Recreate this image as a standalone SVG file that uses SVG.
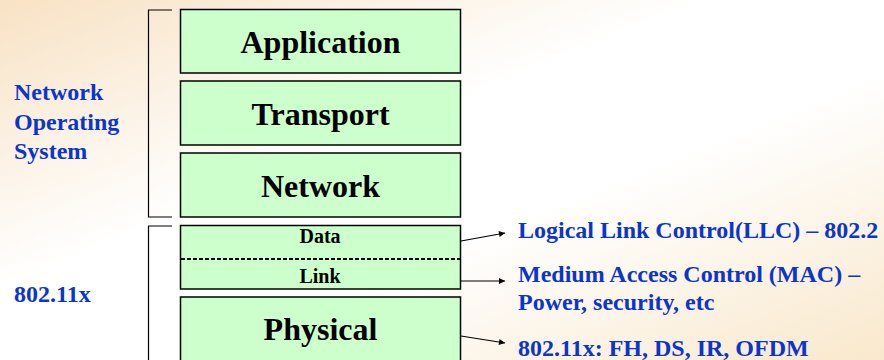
<svg xmlns="http://www.w3.org/2000/svg" width="884" height="360" viewBox="0 0 884 360">
  <defs>
    <!-- diagonal wash: peach in the top-left and bottom-right corners, white across the middle -->
    <linearGradient id="bg" gradientUnits="userSpaceOnUse" x1="0" y1="0" x2="251.5" y2="617.6">
      <stop offset="0" stop-color="#F8E2C4"/>
      <stop offset="0.4" stop-color="#FFFFFF"/>
      <stop offset="0.6" stop-color="#FFFFFF"/>
      <stop offset="1" stop-color="#F9E8CC"/>
    </linearGradient>
    <marker id="arrow" viewBox="0 0 10 10" refX="10" refY="5" markerWidth="8" markerHeight="6" markerUnits="userSpaceOnUse" orient="auto">
      <path d="M0,0 L10,5 L0,10 Z" fill="#000"/>
    </marker>
    <style>
      .layer { fill: #CCFFCC; stroke: #000; stroke-width: 1.5; }
      .big { font-family: "Liberation Serif", "Times New Roman", serif; font-weight: bold; font-size: 32px; fill: #000; text-anchor: middle; }
      .small { font-family: "Liberation Serif", "Times New Roman", serif; font-weight: bold; font-size: 20px; fill: #000; text-anchor: middle; }
      .note { font-family: "Liberation Serif", "Times New Roman", serif; font-weight: bold; font-size: 24px; fill: #0B35CC; }
      .bracket { fill: none; stroke: #000; stroke-width: 1.2; }
      .conn { fill: none; stroke: #000; stroke-width: 1.2; marker-end: url(#arrow); }
    </style>
  </defs>

  <rect x="0" y="0" width="884" height="360" fill="url(#bg)"/>

  <!-- side labels and brackets -->
  <g id="nos-label">
    <text class="note" x="14" y="100">Network</text>
    <text class="note" x="14" y="130">Operating</text>
    <text class="note" x="14" y="159">System</text>
    <path class="bracket" d="M172,10 H148.5 V217 H172"/>
  </g>
  <g id="wlan-label">
    <text class="note" x="14" y="302">802.11x</text>
    <path class="bracket" d="M172,226 H148.5 V362"/>
  </g>

  <!-- protocol stack -->
  <g id="application">
    <rect class="layer" x="180.5" y="9.5" width="280" height="63.5"/>
    <text class="big" x="320.5" y="53">Application</text>
  </g>
  <g id="transport">
    <rect class="layer" x="180.5" y="81" width="280" height="64"/>
    <text class="big" x="320.5" y="125">Transport</text>
  </g>
  <g id="network">
    <rect class="layer" x="180.5" y="153" width="280" height="64"/>
    <text class="big" x="320.5" y="197">Network</text>
  </g>
  <g id="datalink">
    <rect class="layer" x="180.5" y="225.5" width="280" height="63.5"/>
    <line x1="181" y1="259" x2="460" y2="259" stroke="#000" stroke-width="2" stroke-dasharray="4 2"/>
    <text class="small" x="320" y="243">Data</text>
    <text class="small" x="320" y="283">Link</text>
  </g>
  <g id="physical">
    <rect class="layer" x="180.5" y="297" width="280" height="80"/>
    <text class="big" x="320.5" y="340">Physical</text>
  </g>

  <!-- annotations -->
  <g id="llc">
    <text class="note" x="518" y="238">Logical Link Control(LLC) – 802.2</text>
  </g>
  <g id="mac">
    <text class="note" x="518" y="282">Medium Access Control (MAC) –</text>
    <text class="note" x="518" y="310">Power, security, etc</text>
  </g>
  <g id="phy">
    <text class="note" x="518" y="356">802.11x: FH, DS, IR, OFDM</text>
  </g>

  <g id="connectors">
    <line class="conn" x1="461" y1="241" x2="505" y2="233"/>
    <line class="conn" x1="461" y1="281" x2="505" y2="281"/>
    <line class="conn" x1="461" y1="336" x2="505" y2="343"/>
  </g>
</svg>
